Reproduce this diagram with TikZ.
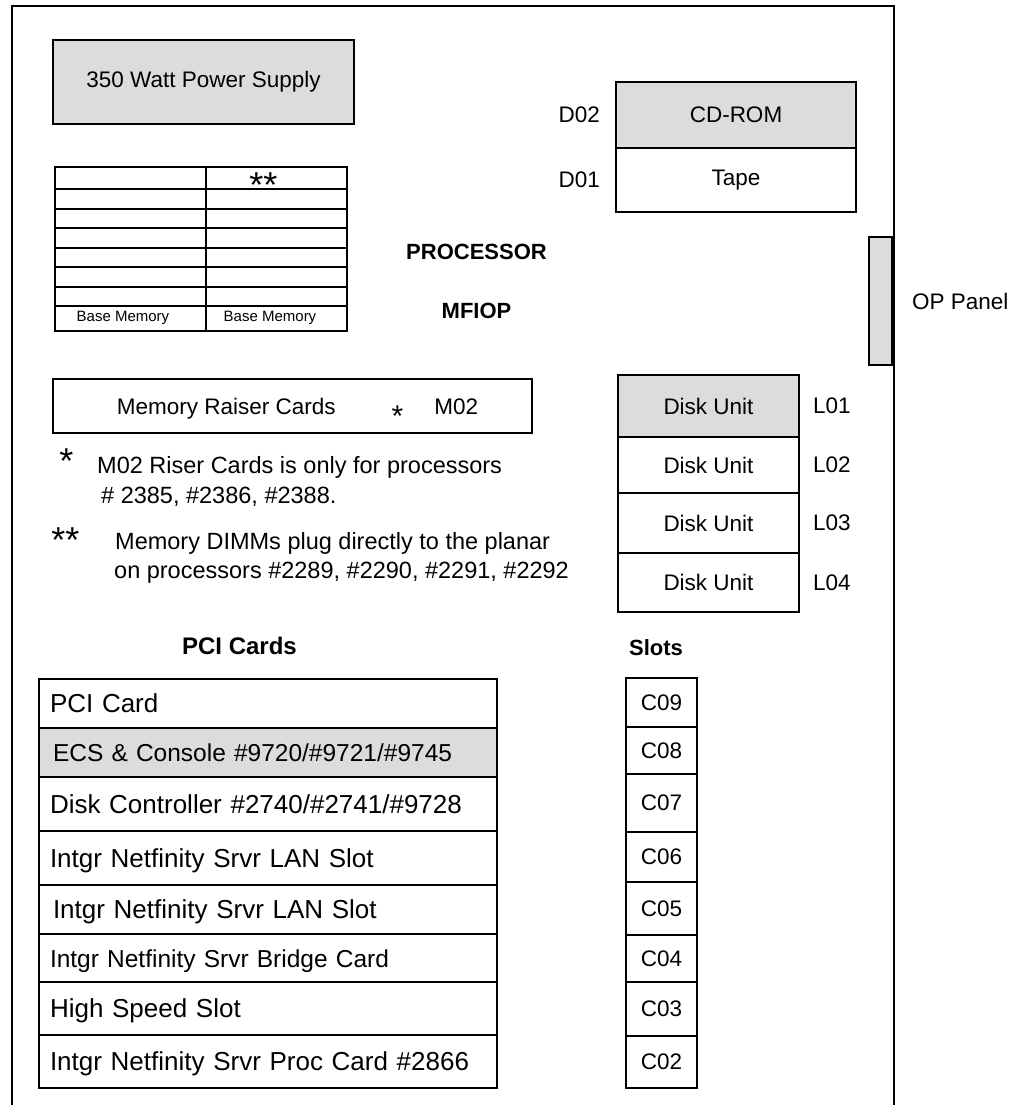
\documentclass[tikz,border=0pt]{standalone}
\usepackage{fontspec}
\setmainfont{Liberation Sans}
\usetikzlibrary{positioning}
\definecolor{unitgray}{RGB}{220,220,220}

\begin{document}
\begin{tikzpicture}[x=1pt, y=-1pt,
  box/.style={rectangle, draw, line width=1.8pt, inner sep=0pt, outer sep=0pt,
    anchor=north west, font=\fontsize{22.5}{27}\selectfont},
  unit/.style={box, fill=unitgray},
  lbl/.style={inner sep=0pt, font=\fontsize{22.5}{27}\selectfont},
  head/.style={inner sep=0pt, font=\fontsize{22}{26}\selectfont\bfseries},
  star/.style={inner sep=0pt, anchor=base, font=\fontsize{36}{36}\selectfont},
  note/.style={inner sep=0pt, anchor=north west, align=left,
    font=\fontsize{23.5}{30}\selectfont},
  pcirow/.style={box, text width=436pt, inner xsep=11pt, align=left,
    text height=18.6pt, text depth=0pt, font=\fontsize{26}{30}\selectfont},
  slot/.style={box, minimum width=71pt},
  rule/.style={line width=1.8pt}
]
\useasboundingbox (0,0) rectangle (1010,1105);

% enclosure
\draw[line width=2pt] (11.5,1105) -- (11.5,6) -- (894,6) -- (894,1105);

% power supply and base memory
\node[unit, minimum width=301pt, minimum height=84pt] (psu) at (53,40) {350 Watt Power Supply};

\node[box, minimum width=292pt, minimum height=164pt] (memtab) at (55,167) {};
\draw[rule] (206,167) -- (206,331);
\foreach \y in {189,209,228,248,267,287,306}
  \draw[rule] (55,\y) -- (347,\y);
\node[star] (dimmstar) at (263.5,197) {**};
\node[lbl, font=\fontsize{15}{18}\selectfont] (bm1) at (123,318) {Base Memory};
\node[lbl, font=\fontsize{15}{18}\selectfont] (bm2) at (270,318) {Base Memory};

\node[head] (proc) at (476.5,252) {PROCESSOR};
\node[head] (mfiop) at (476.5,311) {MFIOP};

% removable media
\node[unit, minimum width=240pt, minimum height=66pt] (cdrom) at (616,82) {CD-ROM};
\node[box, minimum width=240pt, minimum height=64pt, below=0pt of cdrom] (tape) {Tape};
\node[lbl, left=16pt of cdrom] (d02) {D02};
\node[lbl, left=16pt of tape] (d01) {D01};

% operator panel
\node[unit, minimum width=23pt, minimum height=128pt] (oppanel) at (869,237) {};
\node[lbl, right=20pt of oppanel] (oplbl) {OP Panel};

% memory riser and notes
\node[box, minimum width=479pt, minimum height=54pt, text height=16pt, text depth=0pt] (riser) at (53,379)
  {\hspace*{10pt}Memory Raiser Cards\hspace{56pt}\raisebox{-12pt}[0pt][0pt]{\fontsize{30}{30}\selectfont*}\hspace{31pt}M02};

\node[star] (star1) at (66.5,473) {*};
\node[note] (note1) at (97,456) {M02 Riser Cards is only for processors\\
  \hspace*{4pt}\# 2385, \#2386, \#2388.};
\node[star] (star2) at (65.5,552.5) {**};
\node[note, font=\fontsize{23.5}{29}\selectfont] (note2) at (115,532)
  {Memory DIMMs plug directly to the planar\\
  \hspace*{-1pt}on processors \#2289, \#2290, \#2291, \#2292};

% disk units
\node[unit, minimum width=181pt, minimum height=62pt] (du1) at (618,375) {Disk Unit};
\node[box, minimum width=181pt, minimum height=56pt, below=0pt of du1] (du2) {Disk Unit};
\node[box, minimum width=181pt, minimum height=60pt, below=0pt of du2] (du3) {Disk Unit};
\node[box, minimum width=181pt, minimum height=59pt, below=0pt of du3] (du4) {Disk Unit};
\node[lbl, right=14pt of du1] (l01) {L01};
\node[lbl, right=14pt of du2] (l02) {L02};
\node[lbl, right=14pt of du3] (l03) {L03};
\node[lbl, right=14pt of du4] (l04) {L04};

% PCI cards
\node[head, font=\fontsize{24}{28}\selectfont\bfseries] (pcihead) at (239.5,646) {PCI Cards};
\node[pcirow, minimum height=49pt] (pci1) at (39,679) {PCI Card};
\node[pcirow, minimum height=49pt, fill=unitgray, below=0pt of pci1,
  font=\fontsize{24.5}{28}\selectfont, inner xsep=14pt, text width=430pt] (pci2)
  {ECS \& Console \#9720/\#9721/\#9745};
\node[pcirow, minimum height=54pt, below=0pt of pci2] (pci3) {Disk Controller \#2740/\#2741/\#9728};
\node[pcirow, minimum height=54pt, below=0pt of pci3] (pci4) {Intgr Netfinity Srvr LAN Slot};
\node[pcirow, minimum height=49pt, below=0pt of pci4, inner xsep=14pt, text width=430pt] (pci5)
  {Intgr Netfinity Srvr LAN Slot};
\node[pcirow, minimum height=48pt, below=0pt of pci5, font=\fontsize{24.5}{28}\selectfont] (pci6)
  {Intgr Netfinity Srvr Bridge Card};
\node[pcirow, minimum height=53pt, below=0pt of pci6] (pci7) {High Speed Slot};
\node[pcirow, minimum height=53pt, below=0pt of pci7] (pci8) {Intgr Netfinity Srvr Proc Card \#2866};

% slots
\node[head] (slothead) at (656,648) {Slots};
\node[slot, minimum height=49pt] (c09) at (626,678) {C09};
\node[slot, minimum height=47pt, below=0pt of c09] (c08) {C08};
\node[slot, minimum height=58pt, below=0pt of c08] (c07) {C07};
\node[slot, minimum height=50pt, below=0pt of c07] (c06) {C06};
\node[slot, minimum height=53pt, below=0pt of c06] (c05) {C05};
\node[slot, minimum height=47pt, below=0pt of c05] (c04) {C04};
\node[slot, minimum height=54pt, below=0pt of c04] (c03) {C03};
\node[slot, minimum height=52pt, below=0pt of c03] (c02) {C02};
\end{tikzpicture}
\end{document}
